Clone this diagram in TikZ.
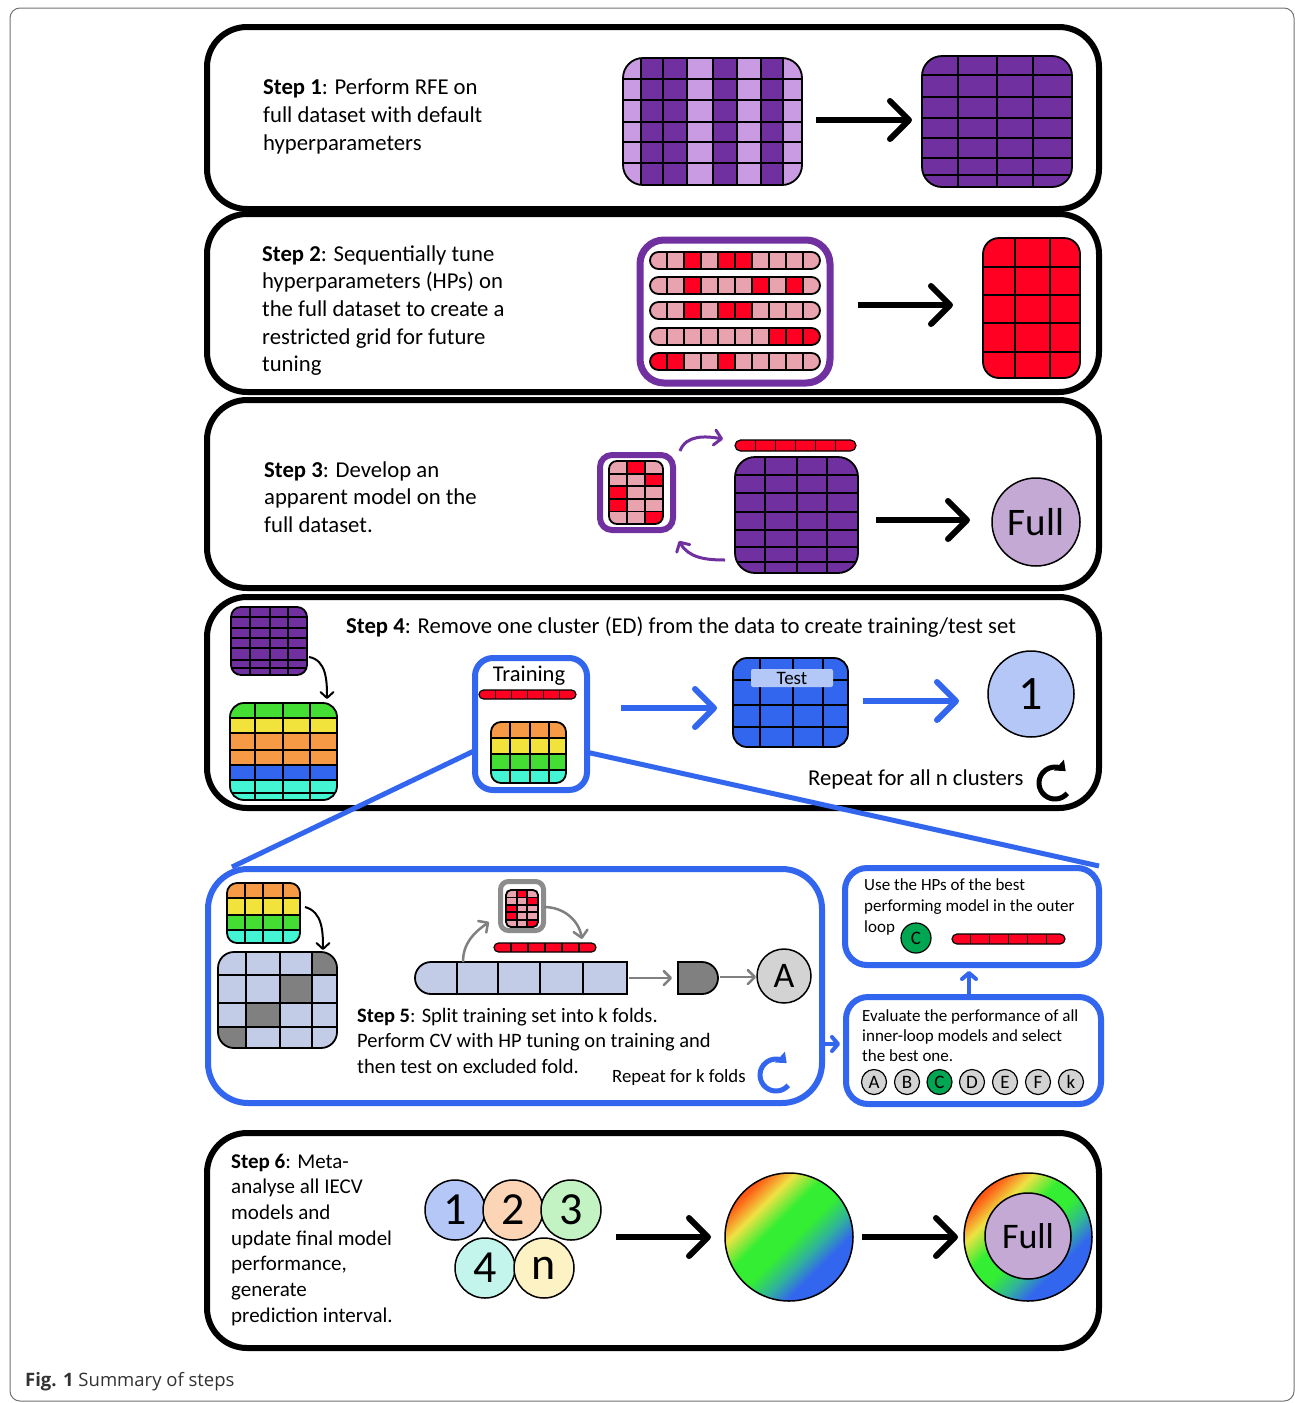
\documentclass[tikz,border=0pt]{standalone}
\usepackage{fontspec}
\setmainfont{Carlito}
\newfontfamily\capfont{Open Sans}
\usetikzlibrary{arrows.meta}
\definecolor{dpur}{HTML}{7030A0}
\definecolor{lpur}{HTML}{C99BE2}
\definecolor{rd}{HTML}{FF0022}
\definecolor{pk}{HTML}{E9A3AF}
\definecolor{bl}{HTML}{3366EE}
\definecolor{lbl}{HTML}{B4C7F7}
\definecolor{tlbl}{HTML}{B4C8F8}
\definecolor{grn}{HTML}{44DD33}
\definecolor{yel}{HTML}{F2E23C}
\definecolor{org}{HTML}{F79A46}
\definecolor{cyn}{HTML}{44F5D3}
\definecolor{fold}{HTML}{C2CCE6}
\definecolor{gry}{HTML}{808080}
\definecolor{boxgry}{HTML}{8C8C8C}
\definecolor{lil}{HTML}{C3A9D3}
\definecolor{gc}{HTML}{00A651}
\definecolor{lgry}{HTML}{D3D3D3}
\definecolor{peach}{HTML}{FBD5B5}
\definecolor{lgrn}{HTML}{C3F3C3}
\definecolor{lcyn}{HTML}{C3F5EC}
\definecolor{lyel}{HTML}{FCF2C3}
\definecolor{rainO}{HTML}{FF5A14}
\definecolor{rainY}{HTML}{EEE244}
\definecolor{rainG}{HTML}{33EE33}
\definecolor{rainT}{HTML}{30B49A}
\pgfdeclarehorizontalshading{rainbow}{100bp}{color(0bp)=(rainO); color(26bp)=(rainO); color(34bp)=(rainY); color(43bp)=(rainG); color(52bp)=(rainG); color(60bp)=(rainT); color(67bp)=(bl); color(100bp)=(bl)}
\newcommand\ltab[1]{\begin{tabular}[t]{@{}l@{}}#1\end{tabular}}
\newcommand\cellgrid[8]{%
  \begin{scope}
    \clip[rounded corners=#5] (#1,#2) rectangle (#3,#4);
    #8
    \foreach \xx in {#6} {\draw[gl] (\xx,#2) -- (\xx,#4);}
    \foreach \yy in {#7} {\draw[gl] (#1,\yy) -- (#3,\yy);}
  \end{scope}
  \draw[gl, rounded corners=#5] (#1,#2) rectangle (#3,#4);%
}
\newcommand\pillrow[2]{%
  \cellgrid{650}{#1}{820}{#1+17}{8.5}{667,684,701,718,735,752,769,786,803}{#1}{%
    \foreach \cl [count=\i] in {#2} {\fill[\cl] ({650+17*(\i-1)},#1) rectangle ++(17,17);}}%
}
\newcommand\redbar[5]{%
  \fill[rd, rounded corners=#5] (#1,#2) rectangle (#3,#4);
  \foreach \k in {1,...,5} {\draw[gl, line width=1.2] ({#1+\k*(#3-#1)/6},#2) -- ({#1+\k*(#3-#1)/6},#4);}
  \draw[gl, line width=1.2, rounded corners=#5] (#1,#2) rectangle (#3,#4);%
}
\newcommand\pgrid[5]{%
  \cellgrid{#1}{#2}{#1+3*#3}{#2+5*#4}{#5}{#1+#3,#1+2*#3}{#2+#4,#2+2*#4,#2+3*#4,#2+4*#4}{%
    \fill[pk] (#1,#2) rectangle ++(3*#3,5*#4);
    \foreach \cc/\rr in {1/0,2/1,0/2,0/3,2/4} {\fill[rd] ({#1+\cc*#3},{#2+\rr*#4}) rectangle ++(#3,#4);}}%
}
\begin{document}
\begin{tikzpicture}[x=1pt,y=-1pt,
  gl/.style={draw=black, line width=1.8},
  panel/.style={draw=black, line width=6, rounded corners=40},
  bbox/.style={draw=bl, line width=6},
  barr/.style={line width=6, -{Straight Barb[length=19pt,width=38pt,round]}},
  blarr/.style={draw=bl, line width=6, -{Straight Barb[length=19pt,width=38pt,round]}},
  sbarr/.style={draw=bl, line width=4, -{Straight Barb[length=6pt,width=14pt,round]}},
  parr/.style={draw=dpur, line width=3, -{Straight Barb[length=7pt,width=15pt,round]}},
  karr/.style={draw=black, line width=2, -{Straight Barb[length=6pt,width=13pt,round]}},
  garr/.style={draw=gry, line width=2.5, -{Straight Barb[length=7pt,width=14pt,round]}},
  bline/.style={draw=bl, line width=5},
  txt/.style={anchor=base west, inner sep=0},
  numc/.style={circle, draw, line width=1.5, minimum size=60, inner sep=0, font=\fontsize{46}{46}\selectfont},
  letc/.style={circle, draw, line width=1.2, fill=lgry, minimum size=25, inner sep=0, font=\fontsize{19}{19}\selectfont}]
\useasboundingbox (0,0) rectangle (1295,1403);
\fill[white] (0,0) rectangle (1295,1403);
\draw[black!55, line width=1, rounded corners=10] (10,8) rectangle (1294,1401);

% panels
\draw[panel] (207,27) rectangle (1099,209);
\draw[panel] (207,214) rectangle (1099,392);
\draw[panel] (207,400) rectangle (1099,588);
\draw[panel] (207,597) rectangle (1099,808);
\draw[panel] (207,1133) rectangle (1099,1348);

% step 5 boxes
\draw[bbox, rounded corners=40] (208,869) rectangle (822,1103);
\draw[bbox, rounded corners=22] (845,868) rectangle (1099,965);
\draw[bbox, rounded corners=22] (846,997) rectangle (1101,1104);

% zoom connectors
\coordinate (zl) at (476,750);
\coordinate (zr) at (586,752);
\coordinate (s5tl) at (232,867);
\coordinate (trtr) at (1099,866);
\draw[bline] (zl) -- (s5tl);
\draw[bline] (zr) -- (trtr);

% ---------- Step 1
\node[txt, font=\fontsize{22.7}{28}\selectfont] (s1t) at (263,94) {\ltab{\textbf{Step 1}: Perform RFE on\\ full dataset with default\\ hyperparameters}};
\cellgrid{623}{58}{802}{185}{20}{641,663,687,713,737,761,783}{79,100,122,142,163}{%
  \fill[lpur] (623,58) rectangle (802,185);
  \foreach \a/\b in {641/687,713/737,761/783} {\fill[dpur] (\a,58) rectangle (\b,185);}}
\cellgrid{922}{56}{1072}{187}{20}{958,997,1033}{75,97,118,138,158,175}{\fill[dpur] (922,56) rectangle (1072,187);}
\coordinate (a1s) at (816,120);
\coordinate (a1e) at (912,120);
\draw[barr] (a1s) -- (a1e);

% ---------- Step 2
\node[txt, font=\fontsize{22.7}{27.7}\selectfont] (s2t) at (262,261) {\ltab{\textbf{Step 2}: Sequentially tune\\ hyperparameters (HPs) on\\ the full dataset to create a\\ restricted grid for future\\ tuning}};
\draw[draw=dpur, line width=7, rounded corners=24] (640,240) rectangle (830,383);
\pillrow{252}{pk,pk,rd,pk,rd,rd,pk,pk,pk,pk}
\pillrow{277}{pk,pk,rd,pk,pk,pk,rd,pk,rd,pk}
\pillrow{302}{pk,pk,rd,pk,rd,rd,pk,pk,pk,pk}
\pillrow{328}{pk,pk,pk,pk,pk,pk,pk,rd,rd,rd}
\pillrow{353}{rd,rd,pk,pk,rd,pk,pk,pk,pk,pk}
\coordinate (a2s) at (858,305);
\coordinate (a2e) at (953,305);
\draw[barr] (a2s) -- (a2e);
\cellgrid{983}{238}{1080}{378}{16}{1015,1050}{267,295,323,352}{\fill[rd] (983,238) rectangle (1080,378);}

% ---------- Step 3
\node[txt, font=\fontsize{22.7}{27.5}\selectfont] (s3t) at (264,477) {\ltab{\textbf{Step 3}: Develop an\\ apparent model on the\\ full dataset.}};
\draw[draw=dpur, line width=6, rounded corners=12] (600,455) rectangle (673,530);
\pgrid{609}{461}{18}{12.6}{8}
\coordinate (p1s) at (680,451);
\coordinate (p1e) at (723,439);
\draw[parr] (p1s) to[out=70,in=170] (p1e);
\coordinate (p2s) at (725,560);
\coordinate (p2e) at (679,541);
\draw[parr] (p2s) to[out=180,in=-60] (p2e);
\redbar{735}{440}{856}{451}{5.5}
\cellgrid{735}{457}{858}{573}{20}{765,797,827}{475,493,512,530,547,562}{\fill[dpur] (735,457) rectangle (858,573);}
\coordinate (a3s) at (876,520);
\coordinate (a3e) at (970,520);
\draw[barr] (a3s) -- (a3e);
\node[circle, draw, line width=1.5, fill=lil, minimum size=88, inner sep=0, font=\fontsize{39}{39}\selectfont] (full1) at (1036,522) {Full};

% ---------- Step 4
\node[txt, font=\fontsize{22.7}{27}\selectfont] (s4t) at (346,633) {\textbf{Step 4}: Remove one cluster (ED) from the data to create training/test set};
\cellgrid{231}{607}{307}{675}{10}{250,270,288}{617,628,638,648,660,668}{\fill[dpur] (231,607) rectangle (307,675);}
\coordinate (k1s) at (309,657);
\coordinate (k1e) at (327,699);
\draw[karr] (k1s) to[out=-10,in=90] (k1e);
\cellgrid{230}{703}{337}{800}{14}{255,283,310}{718,733,750,765,780,793}{%
  \foreach \a/\b/\cl in {703/718/grn,718/733/yel,733/765/org,765/780/bl,780/800/cyn} {\fill[\cl] (230,\a) rectangle (337,\b);}}
\node[draw=bl, fill=white, line width=6, rounded corners=18, minimum width=112, minimum height=132, inner sep=0] (train) at (531,724) {};
\node[anchor=base, inner sep=0, font=\fontsize{22.5}{24}\selectfont] (trl) at (529,681) {Training};
\redbar{479}{690}{576}{699}{4.5}
\cellgrid{491}{722}{566}{783}{10}{510,530,549}{738,754,770}{%
  \foreach \a/\b/\cl in {722/738/org,738/754/yel,754/770/grn,770/783/cyn} {\fill[\cl] (491,\a) rectangle (566,\b);}}
\coordinate (a4s) at (621,708);
\coordinate (a4e) at (717,708);
\draw[blarr] (a4s) -- (a4e);
\cellgrid{733}{658}{848}{747}{14}{760,793,823}{680,705,727}{\fill[bl] (733,658) rectangle (848,747);}
\node[fill=tlbl, rounded corners=2, minimum width=82, minimum height=18, inner sep=0, font=\fontsize{19}{19}\selectfont] (testl) at (792,678) {Test};
\coordinate (a5s) at (863,701);
\coordinate (a5e) at (959,701);
\draw[blarr] (a5s) -- (a5e);
\node[circle, draw, line width=1.5, fill=lbl, minimum size=86, inner sep=0, font=\fontsize{48}{48}\selectfont] (one) at (1031,694) {1};
\node[txt, font=\fontsize{22.7}{27}\selectfont] (rep1) at (808,785) {Repeat for all n clusters};
\coordinate (c1) at (1055,783);
\draw[line width=5, -{Triangle[length=9pt,width=14pt]}] (c1) ++(40:16) arc[start angle=40, end angle=312, radius=16];

% ---------- Step 5
\cellgrid{227}{883}{300}{943}{10}{245,263,283}{898,915,930}{%
  \foreach \a/\b/\cl in {883/898/org,898/915/yel,915/930/grn,930/943/cyn} {\fill[\cl] (227,\a) rectangle (300,\b);}}
\coordinate (k2s) at (305,907);
\coordinate (k2e) at (323,950);
\draw[karr] (k2s) to[out=-15,in=90] (k2e);
\cellgrid{218}{952}{337}{1048}{16}{246,280,312}{975,1003,1027}{%
  \fill[fold] (218,952) rectangle (337,1048);
  \fill[gry] (312,952) rectangle (337,975);
  \fill[gry] (280,975) rectangle (312,1003);
  \fill[gry] (246,1003) rectangle (280,1027);
  \fill[gry] (218,1027) rectangle (246,1048);}
\draw[draw=boxgry, line width=5, rounded corners=8] (500.5,881.5) rectangle (543.5,930.5);
\pgrid{506}{890}{10.67}{7.4}{5}
\redbar{494}{943}{596}{952}{4.5}
\fill[fold] (627,962) -- (431,962) arc[start angle=-90, end angle=-270, radius=16] -- (627,994) -- cycle;
\foreach \xx in {457,498,540,583} {\draw[gl] (\xx,962) -- (\xx,994);}
\draw[gl] (627,962) -- (431,962) arc[start angle=-90, end angle=-270, radius=16] -- (627,994) -- cycle;
\coordinate (g3s) at (463,962);
\coordinate (g3e) at (489,922);
\draw[garr] (g3s) to[out=90,in=-145] (g3e);
\coordinate (g4s) at (544,907);
\coordinate (g4e) at (582,939);
\draw[garr] (g4s) to[out=0,in=100] (g4e);
\coordinate (g1s) at (629,978);
\coordinate (g1e) at (672,978);
\draw[garr] (g1s) -- (g1e);
\draw[gl, fill=gry] (678,962) -- (702,962) arc[start angle=-90, end angle=90, radius=16] -- (678,994) -- cycle;
\coordinate (g2s) at (720,977);
\coordinate (g2e) at (756,977);
\draw[garr] (g2s) -- (g2e);
\node[circle, draw, line width=1.5, fill=lgry, minimum size=54, inner sep=0, font=\fontsize{36}{36}\selectfont] (A) at (784,976) {A};
\node[txt, font=\fontsize{20.5}{25.5}\selectfont] (s5t) at (357,1022) {\ltab{\textbf{Step 5}: Split training set into k folds.\\ Perform CV with HP tuning on training and\\ then test on excluded fold.}};
\node[txt, font=\fontsize{18.8}{20}\selectfont] (rep2) at (612,1082) {Repeat for k folds};
\coordinate (c2) at (776,1075);
\draw[draw=bl, line width=5, -{Triangle[length=9pt,width=14pt]}] (c2) ++(40:16) arc[start angle=40, end angle=312, radius=16];

% right boxes
\node[txt, font=\fontsize{17}{21}\selectfont] (hpt) at (864,890) {\ltab{Use the HPs of the best\\ performing model in the outer\\ loop}};
\node[circle, draw, line width=1.2, fill=gc, minimum size=30, inner sep=0, font=\fontsize{19}{19}\selectfont] (Cbest) at (916,938) {C};
\redbar{952}{934}{1065}{944}{5}
\node[txt, font=\fontsize{17}{20}\selectfont] (evt) at (862,1021.5) {\ltab{Evaluate the performance of all\\ inner-loop models and select\\ the best one.}};
\node[letc] (eA) at (874,1082) {A};
\node[letc] (eB) at (907,1082) {B};
\node[letc, fill=gc] (eC) at (939.5,1082) {C};
\node[letc] (eD) at (972,1082) {D};
\node[letc] (eE) at (1005,1082) {E};
\node[letc] (eF) at (1038,1082) {F};
\node[letc] (ek) at (1071,1082) {k};
\coordinate (b1s) at (825,1044);
\coordinate (b1e) at (840,1044);
\draw[sbarr] (b1s) -- (b1e);
\coordinate (b2s) at (969,995);
\coordinate (b2e) at (969,971);
\draw[sbarr] (b2s) -- (b2e);

% ---------- Step 6
\node[txt, font=\fontsize{21}{25.7}\selectfont] (s6t) at (231,1168) {\ltab{\textbf{Step 6}: Meta-\\ analyse all IECV\\ models and\\ update final model\\ performance,\\ generate\\ prediction interval.}};
\node[numc, fill=lbl] (m1) at (455,1210) {1};
\node[numc, fill=peach] (m2) at (513,1210) {2};
\node[numc, fill=lgrn] (m3) at (571,1210) {3};
\node[numc, fill=lcyn] (m4) at (485,1268) {4};
\node[numc, fill=lyel] (mn) at (544,1268) {n};
\coordinate (a6s) at (616,1237);
\coordinate (a6e) at (711,1237);
\draw[barr] (a6s) -- (a6e);
\node[circle, draw, line width=1.5, minimum size=128, shade, shading=rainbow, shading angle=-45] (meta) at (789,1237) {};
\coordinate (a7s) at (862,1237);
\coordinate (a7e) at (958,1237);
\draw[barr] (a7s) -- (a7e);
\node[circle, draw, line width=1.5, minimum size=128, shade, shading=rainbow, shading angle=-45] (ring) at (1028,1237) {};
\node[circle, draw, line width=1.5, fill=lil, minimum size=86, inner sep=0, font=\fontsize{36}{36}\selectfont] (full2) at (1028,1236) {Full};

% caption
\node[txt, font=\capfont\fontsize{18.5}{20}\selectfont, text=black!80] (cap) at (25,1386) {\textbf{Fig. 1} Summary of steps};
\end{tikzpicture}
\end{document}
